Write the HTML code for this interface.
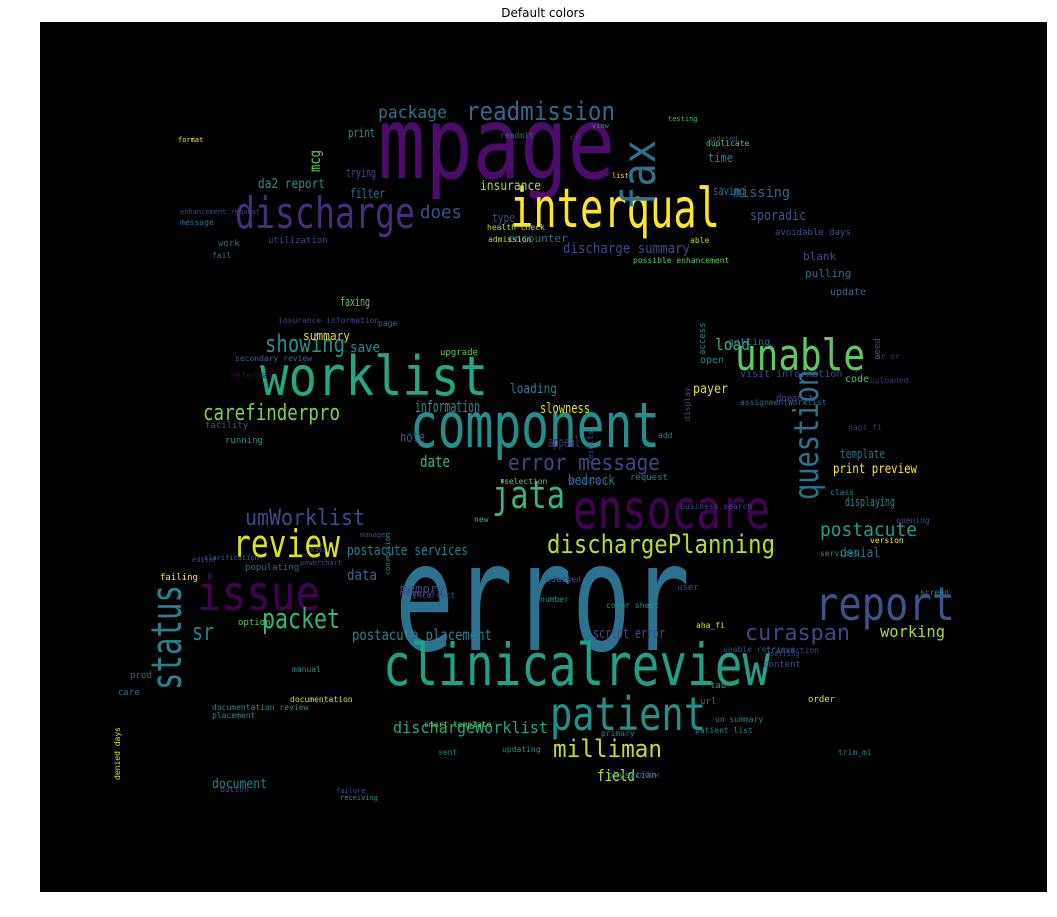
<!DOCTYPE html>
<html><head><meta charset="utf-8">
<style>
html,body{margin:0;padding:0;background:#fff;width:1057px;height:917px;overflow:hidden}
svg{display:block}
text.w{font-family:"DejaVu Sans Mono","Liberation Mono",monospace}
</style></head>
<body>
<svg id="chart" width="1057" height="917" viewBox="0 0 1057 917">
<text x="543" y="17" text-anchor="middle" font-family="DejaVu Sans, Liberation Sans, sans-serif" font-size="12" fill="#000">Default colors</text>
<rect x="40" y="22" width="1007" height="870" fill="#000"/>
<g id="words"></g>
</svg>
<script>
// word, x, baseline y, length, font size, color, rotation(0 or -90)
const words = ["mpage","error","component","clinicalreview","worklist","ensocare","interqual","discharge","fax","unable","report","issue","patient","status","review","jata","question","readmission","dischargePlanning","packet","carefinderpro","showing","umWorklist","milliman","error message","curaspan","postacute","sr","does","package","missing","sporadic","discharge summary","insurance","filter","da2 report","mcg","print","trying","time","saving","type","encounter","faxing","summary","save","load","loading","information","slowness","note","date","bedrock","appeal","payer","postacute services","data","memory","postacute placement","script error","denial","working","dischargeWorklist","field","document","template","print preview","displaying","blank","pulling","update","access","open","getting","code","visit information","need","avoidable days","utilization","work","fail","health check","admission","able","possible enhancement","upgrade","secondary review","insurance information","page","referral","facility","running","request","populating","query","memory","incorrect","option","failing","prod","care","placement","documentation review","denied days","manual","documentation","smart template","updating","sent","window","physician","un summary","tab","url","order","content","unable retrieve","primary","patient list","user","failed","number","cover sheet","aha_fi","transaction","screen","services","opening","version","class","trim_mi","business search","results","display","assignmentWorklist","napi_fi","doesn't","uploaded","sr cr","add","selection","wellspan","new","list","testing","updated","duplicate","readmit","cr","view","format","enhancement request","message","button","failure","receiving","manager","clarification","editor","powerchart","admit","conversion","setting"];
const xs = [378,395,410,383,260,573,510,235,655,735,815,197,550,181,233,492,818,466,547,262,203,265,245,553,508,745,820,192,420,378,733,750,563,480,350,258,320,348,346,708,713,492,508,340,303,350,715,510,415,540,400,420,568,548,693,347,347,400,352,593,840,880,393,597,212,840,833,845,803,805,830,705,700,728,845,740,880,775,268,218,212,487,488,690,633,440,235,278,378,230,205,225,630,245,545,400,412,238,160,130,118,212,212,120,292,290,424,502,438,630,608,715,710,700,808,763,723,601,695,677,552,540,606,696,766,920,820,896,870,830,838,680,593,690,740,848,776,870,876,658,504,568,474,612,668,708,706,500,570,592,178,180,180,220,336,340,360,204,192,300,310,390,770,230,460];
const ys = [178,650,447,685,395,528,227,228,210,370,620,610,730,690,557,508,500,120,553,628,420,352,525,757,470,640,536,640,218,118,197,220,253,190,198,188,172,137,177,162,195,222,242,306,340,352,350,393,412,413,442,467,485,447,393,555,580,593,640,638,557,637,733,781,788,458,473,506,260,277,295,355,363,345,382,377,360,235,243,246,258,230,242,243,263,355,361,323,326,378,428,443,480,570,582,596,598,625,580,678,695,718,710,780,672,702,727,752,755,777,778,722,688,704,702,667,652,736,733,590,582,602,608,628,653,595,556,523,543,495,755,509,464,421,405,430,401,383,359,438,484,483,522,178,121,141,146,138,140,128,142,214,225,792,793,800,537,560,562,565,552,575,656,655,612,585,550];
const lens = [237,295,250,387,228,197,210,180,70,130,140,123,156,105,107,73,130,149,228,78,137,80,120,109,152,105,97,22,42,69,57,56,127,61,35,67,22,27,30,25,32,23,47,30,47,30,35,47,65,50,25,30,47,32,35,121,30,45,140,72,40,65,155,38,55,45,84,50,27,55,32,18,26,40,23,63,14,60,52,17,14,42,28,25,65,28,75,70,16,36,25,30,28,34,36,20,12,25,20,26,18,30,67,42,30,60,60,35,20,25,38,45,28,14,16,22,33,52,20,40,14,15,40,40,20,32,25,25,28,18,24,38,50,28,28,50,14,18,40,25,12,20,25,12,15,20,28,25,12,10,18,42,85,22,17,20,22,35,30,32,25,28,25,24];
const sizes = [100,150,62,58,54,54,54,44,46,44,46,48,46,42,38,38,34,26,26,28,22,24,22,24,22,22,19,24,18,17,14,14,14,13,13,13,15,12,12,12,12,12,11,12,12,14,16,13,16,14,14,16,14,14,13,14,15,12,15,14,13,16,16,16,13,12,13,12,11,11,10,9,10,10,10,10,9,9,9,9,8,8,8,8,8,9,8,8,8,9,9,9,9,9,9,9,8,9,9,9,9,8,8,8,8,8,8,8,8,8,9,8,9,9,9,9,8,8,8,9,8,8,8,8,8,8,8,8,8,8,8,8,8,8,8,8,9,8,8,8,8,8,8,7,7,7,8,8,8,7,7,7,8,8,7,7,7,7,7,7,7,7,7,7,7];
const colors = ["#4b0c6b","#2c718e","#21908d","#1fa187","#22a884","#440154","#fde725","#472d7b","#2c728e","#5ec962","#3b528b","#440154","#21918c","#26828e","#dde318","#35b779","#2c718e","#31688e","#b5de2b","#35b779","#7ad151","#21918c","#3e4a89","#c2df23","#414487","#404688","#1f9e89","#26828e","#3b528b","#2c718e","#31688e","#3b528b","#3e4a89","#b5de2b","#2c718e","#21918c","#5ec962","#21918c","#3e4a89","#26828e","#31688e","#3e4a89","#2c718e","#5ec962","#dde318","#21918c","#35b779","#26828e","#21918c","#dde318","#3b528b","#35b779","#2c718e","#46327e","#dde318","#26828e","#31688e","#3e4a89","#26828e","#3e4a89","#2c718e","#a5db36","#22a884","#bddf26","#26828e","#2c718e","#fde725","#26828e","#3e4a89","#2c718e","#31688e","#26828e","#26828e","#31688e","#5ec962","#3e4a89","#3e4a89","#3b528b","#3e4a89","#31688e","#31688e","#bddf26","#b5de2b","#b5de2b","#5ec962","#5ec962","#31688e","#3e4a89","#31688e","#440154","#3b528b","#21918c","#26828e","#31688e","#3e4a89","#3e4a89","#3e4a89","#5ec962","#fde725","#31688e","#31688e","#21918c","#21918c","#dde318","#21918c","#dde318","#5ec962","#21918c","#26828e","#3e4a89","#21918c","#26828e","#21918c","#26828e","#dde318","#3b528b","#3e4a89","#26828e","#26828e","#3e4a89","#3b528b","#21918c","#21918c","#dde318","#3e4a89","#26828e","#21918c","#3e4a89","#fde725","#26828e","#26828e","#3e4a89","#3e4a89","#3e4a89","#2c718e","#472d7b","#3e4a89","#472d7b","#3e4a89","#26828e","#5ec962","#3e4a89","#35b779","#fde725","#35b779","#3e4a89","#5ec962","#31688e","#3e4a89","#21918c","#fde725","#3e4a89","#2c718e","#3e4a89","#3e4a89","#21918c","#3e4a89","#31688e","#3e4a89","#3e4a89","#3e4a89","#21918c","#3e4a89","#3e4a89","#472d7b","#31688e"];
const rots = [0,0,0,0,0,0,0,0,-90,0,0,0,0,-90,0,0,-90,0,0,0,0,0,0,0,0,0,0,0,0,0,0,0,0,0,0,0,-90,0,0,0,0,0,0,0,0,0,0,0,0,0,0,0,0,0,0,0,0,0,0,0,0,0,0,0,0,0,0,0,0,0,0,-90,0,0,0,0,-90,0,0,0,0,0,0,0,0,0,0,0,0,0,0,0,0,0,0,0,0,0,0,0,0,0,0,-90,0,0,0,0,0,0,0,0,0,0,0,0,0,0,0,0,0,0,0,0,0,0,0,0,0,0,0,0,-90,-90,0,0,0,0,0,0,0,0,0,0,0,0,0,0,0,0,0,0,0,0,0,0,0,0,0,0,0,-90,0,0,0];
const g = document.getElementById('words');
const NS = 'http://www.w3.org/2000/svg';
for (let i = 0; i < words.length; i++) {
  const t = document.createElementNS(NS, 'text');
  t.setAttribute('class', 'w');
  
  
  t.setAttribute('x', xs[i]);
  t.setAttribute('y', ys[i]);
  t.setAttribute('font-size', sizes[i]);
  t.setAttribute('fill', colors[i]);
  if (sizes[i] >= 12) {
    t.setAttribute('textLength', lens[i]);
    t.setAttribute('lengthAdjust', 'spacingAndGlyphs');
  }
  if (rots[i]) t.setAttribute('transform', 'rotate(' + rots[i] + ' ' + xs[i] + ' ' + ys[i] + ')');
  t.textContent = words[i];
  g.appendChild(t);
}
</script>
</body></html>
